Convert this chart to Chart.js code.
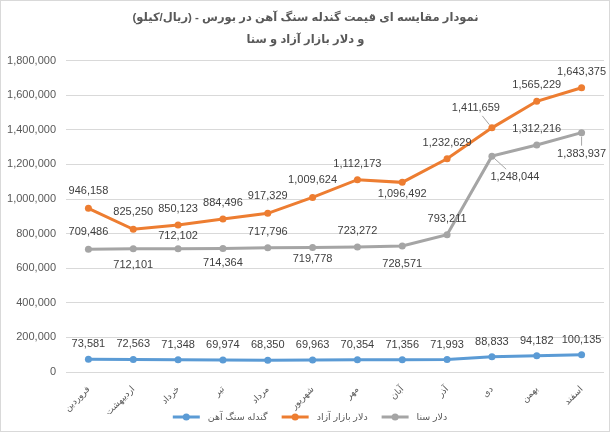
<!DOCTYPE html>
<html>
<head>
<meta charset="utf-8">
<script src="https://cdn.jsdelivr.net/npm/chart.js@4/dist/chart.umd.min.js"></script>
<style>
html,body{margin:0;padding:0;background:#fff;}
canvas{display:block;}
</style>
</head>
<body>
<canvas id="c" width="610" height="432"></canvas>
<script>
// ---- data ----
const months = ['فروردین','اردیبهشت','خرداد','تیر','مرداد','شهریور','مهر','آبان','آذر','دی','بهمن','اسفند'];
const seriesNames = ['گندله سنگ آهن','دلار بازار آزاد','دلار سنا'];
const pelletPrice = [73581,72563,71348,69974,68350,69963,70354,71356,71993,88833,94182,100135];
const freeMarketDollar = [946158,825250,850123,884496,917329,1009624,1112173,1096492,1232629,1411659,1565229,1643375];
const sanaDollar = [709486,712101,712102,714364,717796,719778,723272,728571,793211,1248044,1312216,1383937];
const yTicks = [0,200000,400000,600000,800000,1000000,1200000,1400000,1600000,1800000];
const titleLines = ['نمودار مقایسه ای قیمت گندله سنگ آهن در بورس - (ریال/کیلو)\u200F','و دلار بازار آزاد و سنا'];

// ---- styling ----
const colors = ['#5B9BD5','#ED7D31','#A5A5A5'];
const FONT = '"Liberation Sans", "DejaVu Sans", sans-serif';
// label placement per point: [dx, dy, leaderLine]
const labelPlacement = [
  pelletPrice.map(() => [0,-15,false]),
  [[0,-17],[0,-17],[0,-16],[0,-16],[0,-17],[0,-17],[0,-16],[0,12],[0,-16],[-16,-20,true],[0,-16],[0,-16]],
  [[0,-17],[0,16],[0,-13],[0,15],[0,-16],[0,11],[0,-16],[0,18],[0,-16],[23,21,true],[0,-16],[0,21,true]]
];

const bgPlugin = {
  id:'bg',
  beforeDraw(chart){
    const ctx = chart.ctx;
    ctx.save();
    ctx.fillStyle = '#fff';
    ctx.fillRect(0,0,chart.width,chart.height);
    ctx.strokeStyle = '#d9d9d9'; ctx.lineWidth = 1;
    ctx.strokeRect(0.5,0.5,chart.width-1,chart.height-1);
    ctx.restore();
  }
};

const labelPlugin = {
  id:'valueLabels',
  afterDatasetsDraw(chart){
    const ctx = chart.ctx;
    ctx.save();
    ctx.font = '11px ' + FONT;
    ctx.textAlign = 'center';
    ctx.textBaseline = 'middle';
    chart.data.datasets.forEach((ds, di) => {
      const meta = chart.getDatasetMeta(di);
      meta.data.forEach((pt, i) => {
        const pl = labelPlacement[di][i];
        const text = ds.data[i].toLocaleString('en-US');
        const lx = pt.x + pl[0], ly = pt.y + pl[1];
        if (pl[2]) {
          const w = ctx.measureText(text).width/2 + 2, h = 8;
          const vx = pt.x - lx, vy = pt.y - ly;
          const t = Math.min(vx ? w/Math.abs(vx) : Infinity, vy ? h/Math.abs(vy) : Infinity);
          const ex = lx + vx*t, ey = ly + vy*t;
          const len = Math.hypot(vx,vy);
          ctx.strokeStyle = '#a6a6a6'; ctx.lineWidth = 1;
          ctx.beginPath();
          ctx.moveTo(ex,ey);
          ctx.lineTo(pt.x - vx/len*4, pt.y - vy/len*4);
          ctx.stroke();
        }
        ctx.fillStyle = '#404040';
        ctx.fillText(text, lx, ly);
      });
    });
    ctx.restore();
  }
};

const legendPlugin = {
  id:'lineLegend',
  afterDraw(chart){
    const ctx = chart.ctx;
    ctx.save();
    ctx.font = '9.5px ' + FONT;
    const items = chart.data.datasets.map(ds => ({text: ds.label, color: ds.borderColor, w: ctx.measureText(ds.label).width}));
    const markW = 27, gapMT = 8, gapItem = 14;
    const total = items.reduce((s,it)=>s+markW+gapMT+it.w,0) + gapItem*(items.length-1);
    let x = 310 - total/2;
    const y = 417;
    items.forEach(it => {
      ctx.strokeStyle = it.color; ctx.lineWidth = 3;
      ctx.beginPath(); ctx.moveTo(x,y); ctx.lineTo(x+markW,y); ctx.stroke();
      ctx.fillStyle = it.color;
      ctx.beginPath(); ctx.arc(x+markW/2,y,3.5,0,Math.PI*2); ctx.fill();
      x += markW + gapMT;
      ctx.fillStyle = '#595959';
      ctx.textAlign = 'left'; ctx.textBaseline = 'middle';
      ctx.fillText(it.text, x, y);
      x += it.w + gapItem;
    });
    ctx.restore();
  }
};

const mkDs = (label, data, color) => ({
  label, data,
  borderColor: color, backgroundColor: color,
  pointBackgroundColor: color, pointBorderColor: color,
  borderWidth: 3, pointRadius: 3.5, pointBorderWidth: 0,
  tension: 0, fill: false
});

new Chart(document.getElementById('c'), {
  type:'line',
  data:{
    labels: months,
    datasets:[
      mkDs(seriesNames[0], pelletPrice, colors[0]),
      mkDs(seriesNames[1], freeMarketDollar, colors[1]),
      mkDs(seriesNames[2], sanaDollar, colors[2])
    ]
  },
  options:{
    responsive:false,
    animation:false,
    layout:{padding:{left:7,right:6,top:0,bottom:18}},
    plugins:{
      title:{
        display:true,
        text:titleLines,
        color:'#595959',
        font:{family:FONT,size:11.5,weight:'bold',lineHeight:1.9},
        padding:{top:7,bottom:10}
      },
      legend:{display:false},
      tooltip:{enabled:false}
    },
    scales:{
      x:{
        offset:true,
        grid:{display:false, drawTicks:false},
        border:{display:false},
        ticks:{
          color:'#595959',
          font:{family:FONT,size:9},
          maxRotation:45, minRotation:45,
          autoSkip:false, padding:12
        },
        afterFit(s){ s.height = 42; }
      },
      y:{
        min:0, max:1800000,
        afterBuildTicks(s){ s.ticks = yTicks.map(v=>({value:v})); },
        grid:{color:'#d9d9d9', drawTicks:false},
        border:{display:false},
        ticks:{
          color:'#595959',
          font:{family:FONT,size:11},
          padding:10,
          callback:(v)=>v.toLocaleString('en-US')
        },
        afterFit(s){ s.width = 59; }
      }
    }
  },
  plugins:[bgPlugin, labelPlugin, legendPlugin]
});
</script>
</body>
</html>
